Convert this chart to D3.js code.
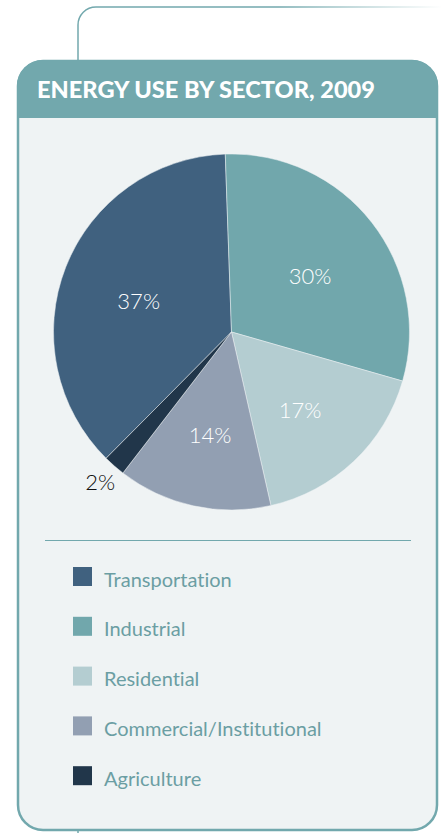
<!DOCTYPE html>
<html>
<head>
<meta charset="utf-8">
<script src="https://d3js.org/d3.v7.min.js"></script>
<style>
  body { margin: 0; background: #ffffff; }
  svg { display: block; }
  text { font-variant-ligatures: none; }
</style>
</head>
<body>
<svg id="chart" width="442" height="833"></svg>
<script>
// data
var title = "ENERGY USE BY SECTOR, 2009";
var sectors = ["Transportation", "Industrial", "Residential", "Commercial/Institutional", "Agriculture"];
var shares = [37, 30, 17, 14, 2];
var colors = ["#40617f", "#71a7ac", "#b4cdd1", "#929fb2", "#21364a"];

var svg = d3.select("#chart");
var teal = "#72a8ad";
var panelBg = "#eff3f4";

// decorative connector line above the panel
var grad = svg.append("defs").append("linearGradient")
    .attr("id", "fade").attr("x1", "0").attr("x2", "1").attr("y1", "0").attr("y2", "0");
grad.append("stop").attr("offset", "0%").attr("stop-color", teal);
grad.append("stop").attr("offset", "55%").attr("stop-color", teal);
grad.append("stop").attr("offset", "100%").attr("stop-color", "#ffffff");

var px = d3.path();
px.moveTo(78, 60);
px.lineTo(78, 25);
px.arcTo(78, 7, 96, 7, 18);
px.lineTo(442, 7);
svg.append("path").attr("d", px.toString())
    .attr("fill", "none").attr("stroke", "url(#fade)").attr("stroke-width", 1.5);
svg.append("line").attr("x1", 78).attr("x2", 78).attr("y1", 830).attr("y2", 833)
    .attr("stroke", teal).attr("stroke-width", 1.5);

// panel
var pLeft = 17, pRight = 438, pTop = 60, pBottom = 831, rad = 26;
svg.append("rect")
    .attr("x", pLeft + 1).attr("y", pTop + 1)
    .attr("width", pRight - pLeft - 2).attr("height", pBottom - pTop - 2)
    .attr("rx", rad - 1)
    .attr("fill", panelBg).attr("stroke", teal).attr("stroke-width", 2.5);

var hb = 118;
var ph = d3.path();
ph.moveTo(pLeft, hb);
ph.lineTo(pLeft, pTop + rad);
ph.arcTo(pLeft, pTop, pLeft + rad, pTop, rad);
ph.lineTo(pRight - rad, pTop);
ph.arcTo(pRight, pTop, pRight, pTop + rad, rad);
ph.lineTo(pRight, hb);
ph.closePath();
svg.append("path").attr("d", ph.toString()).attr("fill", teal);

svg.append("text")
    .attr("x", 37).attr("y", 97.5)
    .attr("fill", "#ffffff")
    .style("font-family", "Lato, sans-serif")
    .style("font-weight", 900)
    .style("font-size", "23.6px")
    .text(title);

// pie
var cx = 231.5, cy = 332, r = 178;
var startA = -135.2 * Math.PI / 180;
var pie = d3.pie().sort(null).value(d => d)
    .startAngle(startA).endAngle(startA + 2 * Math.PI);
var arcs = pie(shares);
var arc = d3.arc().innerRadius(0).outerRadius(r);
var labelArc = d3.arc().innerRadius(r * 0.56).outerRadius(r * 0.56);
var outerArc = d3.arc().innerRadius(r * 1.12).outerRadius(r * 1.12);

var g = svg.append("g").attr("transform", "translate(" + cx + "," + cy + ")");
g.selectAll("path.slice").data(arcs).enter().append("path")
    .attr("class", "slice")
    .attr("d", arc)
    .attr("fill", (d, i) => colors[i])
    .attr("stroke", panelBg).attr("stroke-width", 0.5);

g.selectAll("text.pct").data(arcs).enter().append("text")
    .attr("class", "pct")
    .attr("transform", d => "translate(" + (d.data < 5 ? outerArc : labelArc).centroid(d) + ")")
    .attr("text-anchor", "middle")
    .attr("dy", d => d.data < 5 ? "0.36em" : "0.6em")
    .attr("fill", d => d.data < 5 ? "#111111" : "#ffffff")
    .style("font-family", "Lato, sans-serif")
    .style("font-weight", 300)
    .style("font-size", "22px")
    .text(d => d.data + "%");

// divider
svg.append("line")
    .attr("x1", 45).attr("x2", 411).attr("y1", 540.5).attr("y2", 540.5)
    .attr("stroke", teal).attr("stroke-width", 1.2);

// legend
var ly = d3.scaleBand().domain(sectors).range([567, 816]).paddingInner(0).paddingOuter(0);
var lg = svg.append("g").selectAll("g").data(sectors).enter().append("g")
    .attr("transform", d => "translate(73," + ly(d) + ")");
lg.append("rect").attr("width", 19).attr("height", 19).attr("fill", (d, i) => colors[i]);
lg.append("text")
    .attr("x", 31).attr("y", 19.5)
    .attr("fill", "#6b9ea3")
    .style("font-family", "Lato, sans-serif")
    .style("font-size", "20px")
    .text(d => d);
</script>
</body>
</html>
